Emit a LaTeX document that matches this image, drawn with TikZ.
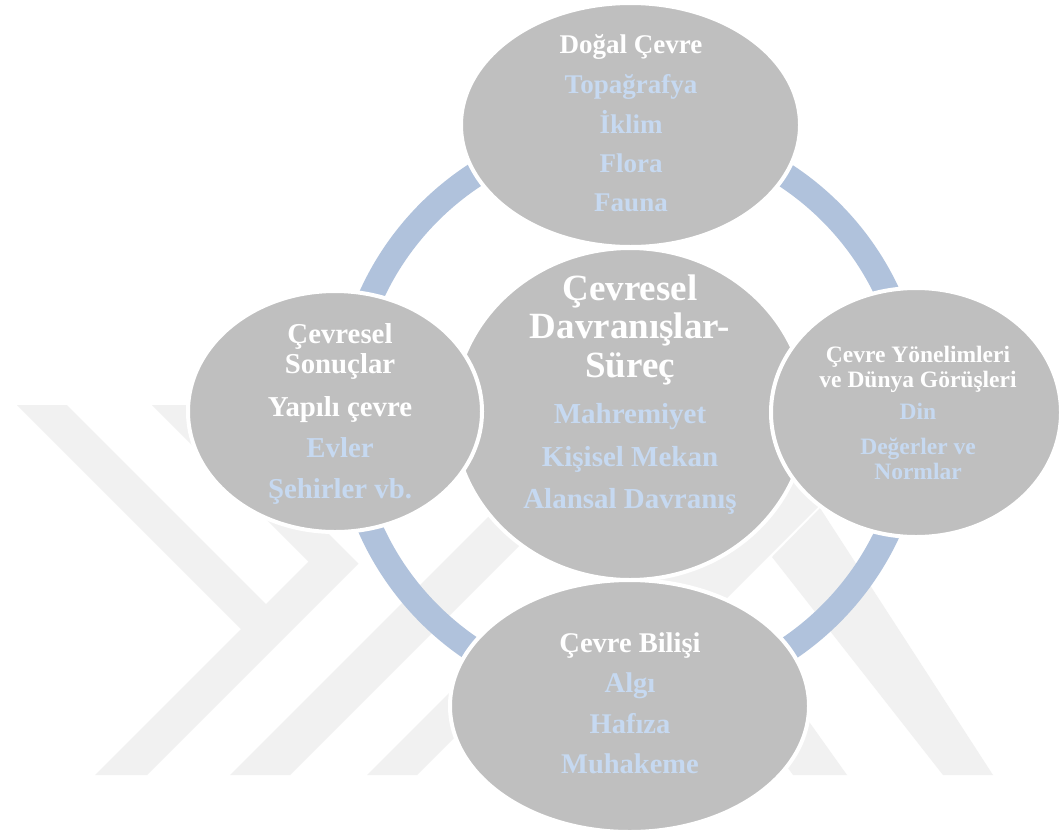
\documentclass[tikz,border=0pt]{standalone}
\usepackage{fontspec}
\setmainfont{Liberation Serif}
\usetikzlibrary{shapes.geometric}
\definecolor{bubgray}{HTML}{BFBFBF}
\definecolor{itemblue}{HTML}{C6D9F1}
\definecolor{ringblue}{HTML}{B0C2DC}
\definecolor{wmark}{HTML}{F1F1F1}
\tikzset{
  bub/.style={ellipse, fill=bubgray, draw=white, line width=4pt, inner sep=0pt, outer sep=0pt},
  txt/.style={anchor=base, inner sep=0pt, outer sep=0pt},
  ringline/.style={draw=ringblue, line width=25pt},
  wm/.style={fill=wmark}
}
\begin{document}
\begin{tikzpicture}[x=1pt,y=-1pt]
\useasboundingbox (0,0) rectangle (1062,836);
\fill[white] (0,0) rectangle (1062,836);
% watermark (faint background logo)
\fill[wm] (17,405) -- (67,405) -- (266,604) -- (308.5,561.5) -- (152,405) -- (200,405)
  -- (358.5,563.5) -- (147,775) -- (95,775) -- (241,629) -- cycle;
\fill[wm] (230,775) -- (290,775) -- (565,500) -- (505,500) -- cycle;
\fill[wm] (367,775) -- (417,775) -- (572,620) -- (522,620) -- cycle;
\fill[wm] (665,600) -- (795,470) -- (855,470) -- (725,600) -- cycle;
\fill[wm] (772,557) -- (820,508) -- (993,775) -- (943,775) -- cycle;
\fill[wm] (640,560) -- (694,560) -- (847,775) -- (793,775) -- cycle;
% ring
\coordinate (ringc) at (630,413);
\draw[ringline] (ringc) circle[radius=284pt];
% ellipses
\node[bub, minimum width=354pt, minimum height=332pt] (C) at (630,414) {};
\node[bub, minimum width=339pt, minimum height=244pt] (N) at (630.5,125) {};
\node[bub, minimum width=294pt, minimum height=241pt] (W) at (335,411.5) {};
\node[bub, minimum width=290pt, minimum height=249pt] (E) at (916,412.5) {};
\node[bub, minimum width=359pt, minimum height=252pt] (S) at (629.5,706) {};
% texts
\foreach \t/\y/\c [count=\i] in {Doğal Çevre/53/white, Topağrafya/93/itemblue, İklim/133/itemblue, Flora/172/itemblue, Fauna/211/itemblue}
  \node[txt, text=\c, font=\fontsize{27pt}{27pt}\selectfont\bfseries] (nt\i) at (631,\y) {\t};
\foreach \t/\y/\c [count=\i] in {Çevresel/300/white, Davranışlar-/338/white, Süreç/377/white}
  \node[txt, text=\c, font=\fontsize{37pt}{37pt}\selectfont\bfseries] (ct\i) at (630,\y) {\t};
\foreach \t/\y/\c [count=\i] in {Mahremiyet/423/itemblue, Kişisel Mekan/466/itemblue, Alansal Davranış/508/itemblue}
  \node[txt, text=\c, font=\fontsize{29pt}{29pt}\selectfont\bfseries] (ci\i) at (630,\y) {\t};
\foreach \t/\y/\c [count=\i] in {Çevresel/343/white, Sonuçlar/373/white, Yapılı çevre/416/white, Evler/457/itemblue, Şehirler vb./498/itemblue}
  \node[txt, text=\c, font=\fontsize{28.8pt}{28.8pt}\selectfont\bfseries] (wt\i) at (340,\y) {\t};
\foreach \t/\y/\c [count=\i] in {Çevre Yönelimleri/362/white, ve Dünya Görüşleri/387/white, Din/419/itemblue, Değerler ve/454/itemblue, Normlar/479/itemblue}
  \node[txt, text=\c, font=\fontsize{23.5pt}{23.5pt}\selectfont\bfseries] (et\i) at (918,\y) {\t};
\foreach \t/\y/\c [count=\i] in {Çevre Bilişi/652/white, Algı/692/itemblue, Hafıza/733/itemblue, Muhakeme/773/itemblue}
  \node[txt, text=\c, font=\fontsize{28.5pt}{28.5pt}\selectfont\bfseries] (st\i) at (630,\y) {\t};
\end{tikzpicture}
\end{document}
